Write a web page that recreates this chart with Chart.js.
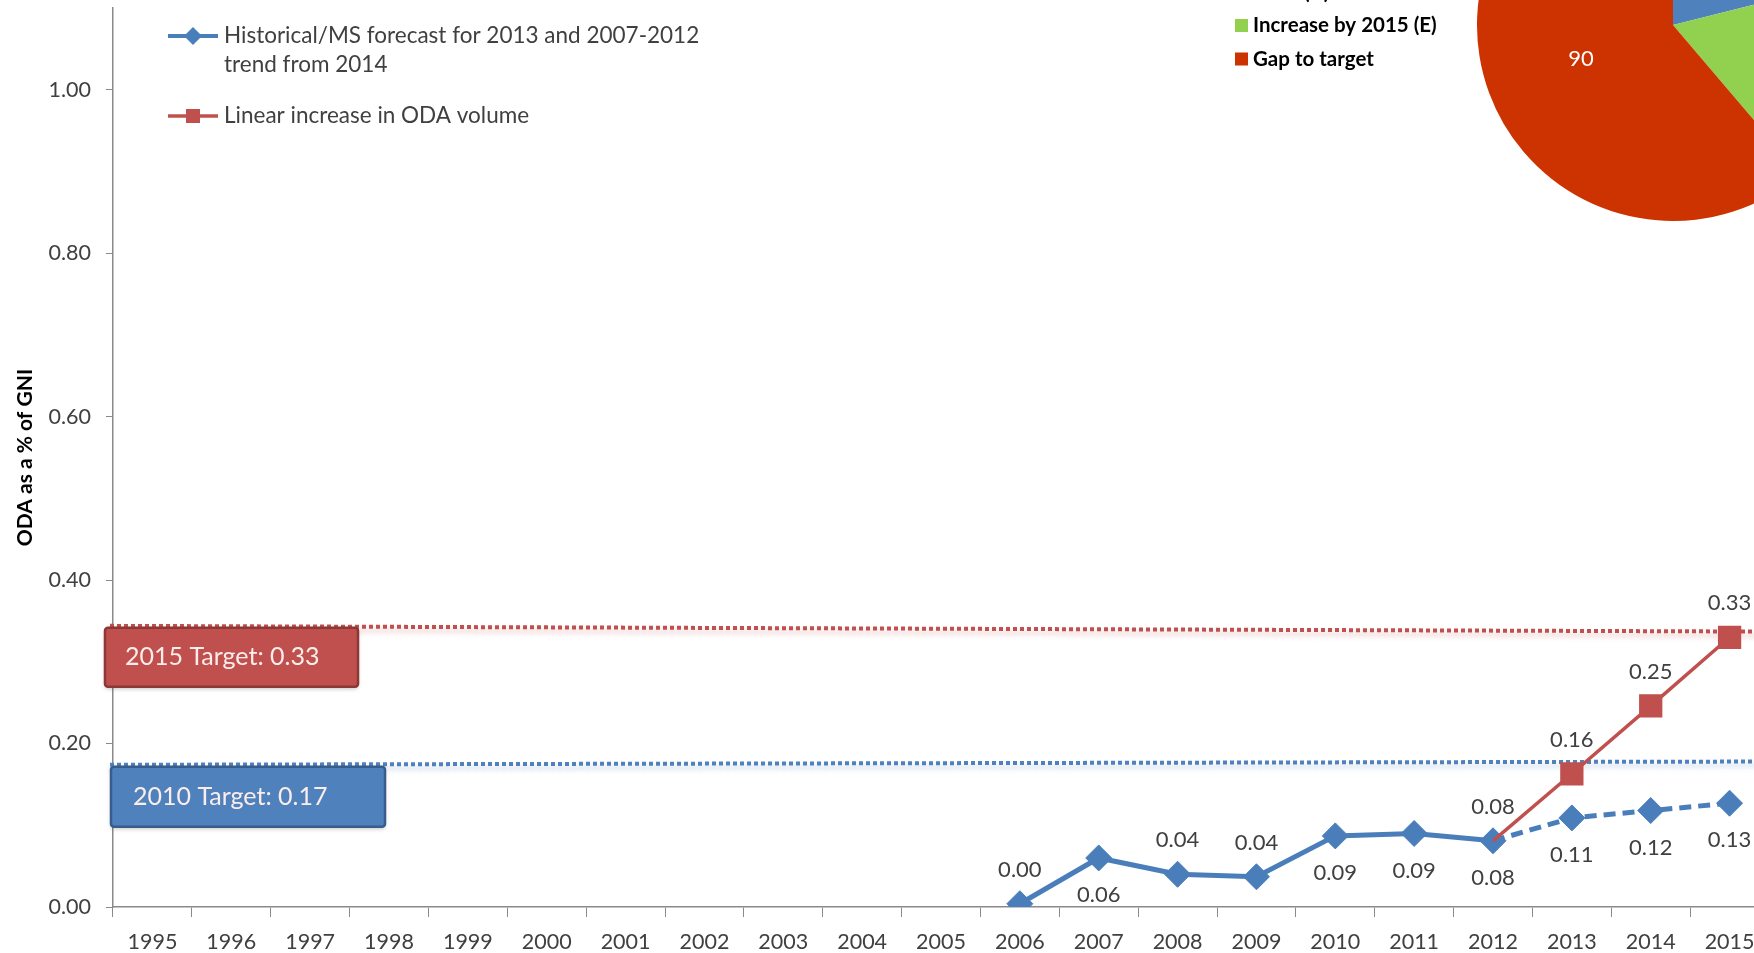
<!DOCTYPE html>
<html lang="en">
  <head>
    <meta charset="UTF-8" />
    <title>ODA as a % of GNI</title>
    <script src="https://cdn.jsdelivr.net/npm/chart.js"></script>
    <style>
      html,
      body {
        margin: 0;
        padding: 0;
        background: #fff;
        overflow: hidden;
        width: 1754px;
        height: 953px;
      }
      #main {
        position: absolute;
        left: 0;
        top: 0;
        width: 1770px;
        height: 953px;
      }
      #pie {
        position: absolute;
        left: 1477px;
        top: -171px;
        width: 392px;
        height: 392px;
      }
    </style>
  </head>
  <body>
    <div id="main"><canvas id="lineChart"></canvas></div>
    <div id="pie"><canvas id="pieChart"></canvas></div>

    <script>
      // Data
      const years = [
        "1995", "1996", "1997", "1998", "1999", "2000", "2001",
        "2002", "2003", "2004", "2005", "2006", "2007", "2008",
        "2009", "2010", "2011", "2012", "2013", "2014", "2015",
      ];
      const historical = [
        null, null, null, null, null, null, null, null, null, null, null,
        0.004, 0.06, 0.04, 0.037, 0.087, 0.09, 0.081, 0.109, 0.118, 0.127,
      ];
      const linearIncrease = [
        null, null, null, null, null, null, null, null, null, null, null,
        null, null, null, null, null, null, 0.081, 0.163, 0.246, 0.33,
      ];
      const yTicks = [0, 0.2, 0.4, 0.6, 0.8, 1.0];
      const seriesNames = [
        ["Historical/MS forecast for 2013 and 2007-2012", "trend from 2014"],
        ["Linear increase in ODA volume"],
      ];
      const forecastFrom = "2012"; // blue line is dashed after this year
      const histLabelsAbove = ["2006", "2008", "2009"];

      // target lines (drawn level at left and right end)
      const targetLabels = ["2015 Target: 0.33", "2010 Target: 0.17"];
      const targetStart = [0.344, 0.174];
      const targetEnd = [0.337, 0.178];

      // pie (top right, mostly cut off)
      const pieLabels = ["ODA (A)", "Increase by 2015 (E)", "Gap to target"];
      const pieValues = [31, 26, 90];

      const blue = "#4A7EBB";
      const red = "#C0504D";
      const pieColors = ["#4F81BD", "#92D050", "#CC3300"];

      Chart.defaults.font.family = "Lato";

      const extras = {
        id: "extras",
        beforeDatasetsDraw(chart) {
          const ctx = chart.ctx;
          const area = chart.chartArea;
          const y = chart.scales.y;
          const lineColors = [red, "#4F81BD"];
          const fills = [red, "#4F81BD"];
          const edges = ["#8C3836", "#385D8A"];
          const boxes = [
            { dx: -8, w: 253, h: 59, tx: 20 },
            { dx: -2, w: 274, h: 60, tx: 22 },
          ];
          targetLabels.forEach((txt, i) => {
            const y0 = y.getPixelForValue(targetStart[i]);
            const y1 = y.getPixelForValue(targetEnd[i]);
            ctx.save();
            ctx.strokeStyle = lineColors[i];
            ctx.lineWidth = 4;
            ctx.setLineDash([4, 3]);
            ctx.shadowColor = i === 0 ? "rgba(192,80,77,0.35)" : "rgba(79,129,189,0.35)";
            ctx.shadowBlur = 5;
            ctx.shadowOffsetY = 4;
            ctx.beginPath();
            ctx.moveTo(area.left - 3, y0);
            ctx.lineTo(area.right, y1);
            ctx.stroke();
            ctx.restore();

            const b = boxes[i];
            const bx = area.left + b.dx;
            const by = y0 + 2;
            ctx.save();
            ctx.fillStyle = fills[i];
            ctx.strokeStyle = edges[i];
            ctx.lineWidth = 2.5;
            ctx.shadowColor = "rgba(0,0,0,0.25)";
            ctx.shadowBlur = 4;
            ctx.shadowOffsetY = 2;
            ctx.beginPath();
            ctx.roundRect(bx, by, b.w, b.h, 3);
            ctx.fill();
            ctx.shadowColor = "transparent";
            ctx.stroke();
            ctx.fillStyle = "#FBEDEC";
            ctx.font = "25px Lato";
            ctx.textBaseline = "middle";
            ctx.fillText(txt, bx + b.tx, by + b.h / 2);
            ctx.restore();
          });
        },
        afterDatasetsDraw(chart) {
          const ctx = chart.ctx;
          ctx.save();
          ctx.font = "22px Lato";
          ctx.fillStyle = "#404040";
          ctx.textAlign = "center";
          ctx.textBaseline = "middle";
          chart.data.datasets.forEach((ds, di) => {
            const meta = chart.getDatasetMeta(di);
            ds.data.forEach((v, i) => {
              if (v === null) return;
              const p = meta.data[i];
              let above = true;
              if (di === 0) above = histLabelsAbove.includes(years[i]);
              ctx.fillText(v.toFixed(2), p.x, p.y + (above ? -34 : 37));
            });
          });
          ctx.restore();
        },
        afterDraw(chart) {
          const ctx = chart.ctx;
          ctx.save();
          // series legend
          ctx.font = "22.5px Lato";
          ctx.textBaseline = "middle";
          const rows = [36, 116];
          [blue, red].forEach((c, i) => {
            const ly = rows[i];
            ctx.strokeStyle = c;
            ctx.fillStyle = c;
            ctx.lineWidth = i === 0 ? 4 : 3.5;
            ctx.beginPath();
            ctx.moveTo(168, ly);
            ctx.lineTo(218, ly);
            ctx.stroke();
            ctx.beginPath();
            if (i === 0) {
              ctx.moveTo(193 - 9, ly);
              ctx.lineTo(193, ly - 9);
              ctx.lineTo(193 + 9, ly);
              ctx.lineTo(193, ly + 9);
              ctx.closePath();
              ctx.fill();
            } else {
              ctx.fillRect(193 - 7, ly - 7, 14, 14);
            }
            ctx.fillStyle = "#404040";
            seriesNames[i].forEach((t, k) => ctx.fillText(t, 224, ly + k * 29));
          });

          // pie legend
          ctx.font = "bold 20.5px Lato";
          pieLabels.forEach((t, i) => {
            const ly = -8 + i * 33.5;
            ctx.fillStyle = pieColors[i];
            ctx.fillRect(1235, ly - 6.5, 13, 13);
            ctx.fillStyle = "#000";
            ctx.fillText(t, 1253, ly);
          });
          ctx.restore();
        },
      };

      new Chart(document.getElementById("lineChart"), {
        type: "line",
        data: {
          labels: years,
          datasets: [
            {
              label: seriesNames[0].join(" "),
              data: historical,
              borderColor: blue,
              backgroundColor: blue,
              borderWidth: 5,
              pointStyle: "rectRot",
              pointRadius: 13,
              pointBorderWidth: 1,
              tension: 0,
              order: 2,
              segment: {
                borderDash: (ctx) =>
                  ctx.p0DataIndex >= years.indexOf(forecastFrom) ? [12, 7] : undefined,
              },
            },
            {
              label: seriesNames[1][0],
              data: linearIncrease,
              borderColor: red,
              backgroundColor: red,
              borderWidth: 3.5,
              pointStyle: "rect",
              pointRadius: (ctx) =>
                ctx.dataIndex === years.indexOf(forecastFrom) ? 0 : 14,
              tension: 0,
              order: 1,
            },
          ],
        },
        options: {
          responsive: true,
          maintainAspectRatio: false,
          animation: false,
          layout: {
            autoPadding: false,
            padding: { top: 8, right: 1, left: 0, bottom: 0 },
          },
          plugins: {
            legend: { display: false },
            tooltip: { enabled: false },
          },
          scales: {
            x: {
              offset: true,
              grid: {
                offset: true,
                drawOnChartArea: false,
                tickLength: 10,
                color: "#8a8a8a",
              },
              border: { color: "#8a8a8a", width: 1.5 },
              ticks: {
                font: { size: 21.5 },
                color: "#404040",
                padding: 12,
                maxRotation: 0,
                autoSkip: false,
              },
              afterFit: (s) => {
                s.height = 46;
                s.paddingLeft = 0;
                s.paddingRight = 0;
              },
            },
            y: {
              min: 0,
              max: 1.1,
              afterBuildTicks: (s) => {
                s.ticks = yTicks.map((v) => ({ value: v }));
              },
              ticks: {
                callback: (v) => v.toFixed(2),
                font: { size: 21.5 },
                color: "#404040",
                padding: 15,
              },
              grid: { drawOnChartArea: false, tickLength: 7, color: "#8a8a8a" },
              border: { color: "#8a8a8a", width: 1.5 },
              title: {
                display: true,
                text: "ODA as a % of GNI",
                font: { size: 21, weight: "bold" },
                color: "#000",
                padding: { top: 13, bottom: 0 },
              },
              afterFit: (s) => {
                s.width = 113;
                s.paddingTop = 0;
                s.paddingBottom = 0;
              },
            },
          },
        },
        plugins: [extras],
      });

      // Pie value labels
      const pieValueLabels = {
        id: "pieValueLabels",
        afterDatasetsDraw(chart) {
          const ctx = chart.ctx;
          const meta = chart.getDatasetMeta(0);
          ctx.save();
          ctx.font = "22px Lato";
          ctx.fillStyle = "#fff";
          ctx.textAlign = "center";
          ctx.textBaseline = "middle";
          meta.data.forEach((arc, i) => {
            const p = arc.tooltipPosition();
            ctx.fillText(String(pieValues[i]), p.x, p.y);
          });
          ctx.restore();
        },
      };

      new Chart(document.getElementById("pieChart"), {
        type: "pie",
        data: {
          labels: pieLabels,
          datasets: [
            {
              data: pieValues,
              backgroundColor: pieColors,
              borderWidth: 0,
            },
          ],
        },
        options: {
          responsive: true,
          maintainAspectRatio: false,
          animation: false,
          layout: { padding: 0 },
          plugins: {
            legend: { display: false },
            tooltip: { enabled: false },
          },
        },
        plugins: [pieValueLabels],
      });
    </script>
  </body>
</html>
